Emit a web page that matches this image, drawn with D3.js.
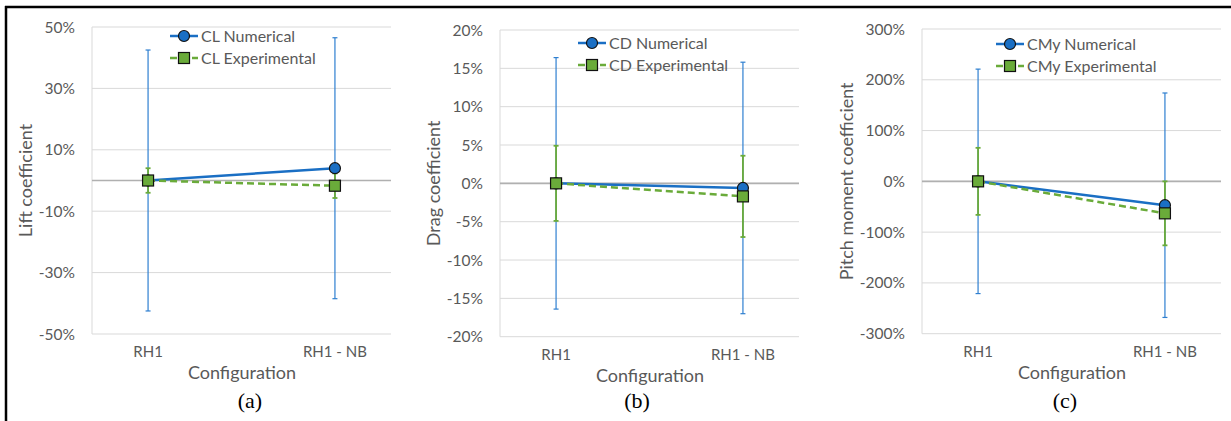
<!DOCTYPE html>
<html>
<head>
<meta charset="utf-8">
<script src="https://cdn.jsdelivr.net/npm/d3@7"></script>
<style>
  body { margin: 0; background: #fff; }
  svg { display: block; font-family: Lato, "Noto Sans", sans-serif; }
  .tick-label, .cat-label, .axis-title, .legend-text { fill: #595959; }
  .panel-tag { font-family: "Liberation Serif", "DejaVu Serif", serif; fill: #000; }
</style>
</head>
<body>
<div id="chart"></div>
<script>
// categories shared by all three panels
const categories = ["RH1", "RH1 - NB"];

// (a) lift coefficient, % change
const clNumerical = [0, 4.0];
const clNumericalErr = [42.5, 42.5];
const clExperimental = [0, -1.7];
const clExperimentalErr = [4.0, 4.0];
const clTicks = [-50, -30, -10, 10, 30, 50];

// (b) drag coefficient
const cdNumerical = [0, -0.6];
const cdNumericalErr = [16.4, 16.4];
const cdExperimental = [0, -1.7];
const cdExperimentalErr = [4.9, 5.3];
const cdTicks = [-20, -15, -10, -5, 0, 5, 10, 15, 20];

// (c) pitch moment coefficient
const cmyNumerical = [0, -47];
const cmyNumericalErr = [221, 221];
const cmyExperimental = [0, -63];
const cmyExperimentalErr = [66, 63];
const cmyTicks = [-300, -200, -100, 0, 100, 200, 300];

const BLUE = "#1a6fc4";
const BLUE_ERR = "#2e7fd0";
const GREEN = "#6aab3a";

const svg = d3.select("#chart").append("svg")
  .attr("width", 1231)
  .attr("height", 421);

svg.append("rect").attr("width", 1231).attr("height", 421).attr("fill", "#fff");

// outer frame (top and left edges show)
svg.append("line").attr("x1", 5).attr("x2", 1231).attr("y1", 7).attr("y2", 7)
  .attr("stroke", "#000").attr("stroke-width", 2.5);
svg.append("line").attr("x1", 6).attr("x2", 6).attr("y1", 6).attr("y2", 421)
  .attr("stroke", "#000").attr("stroke-width", 2.5);

function drawPanel(o) {
  const g = svg.append("g");

  const x = d3.scalePoint().domain(categories).range([o.left, o.right]).padding(0.3);
  const y = d3.scaleLinear().domain(o.domain).range([o.bottom, o.top]);

  // gridlines
  g.selectAll(".grid").data(o.ticks).join("line")
    .attr("x1", o.left).attr("x2", o.right)
    .attr("y1", d => y(d)).attr("y2", d => y(d))
    .attr("stroke", "#d9d9d9").attr("stroke-width", 1);
  // left axis line
  g.append("line").attr("x1", o.left).attr("x2", o.left)
    .attr("y1", o.top).attr("y2", o.bottom)
    .attr("stroke", "#d9d9d9");
  // category axis at zero
  g.append("line").attr("x1", o.left).attr("x2", o.right)
    .attr("y1", y(0)).attr("y2", y(0))
    .attr("stroke", "#b0b0b0").attr("stroke-width", 1.6);

  // tick labels
  g.selectAll(".tick-label").data(o.ticks).join("text")
    .attr("class", "tick-label")
    .attr("x", o.left - 17).attr("y", d => y(d)).attr("dy", "0.36em")
    .attr("text-anchor", "end").attr("font-size", 15.5)
    .text(d => d + "%");

  g.selectAll(".cat-label").data(categories).join("text")
    .attr("class", "cat-label")
    .attr("x", d => x(d)).attr("y", o.bottom + 23)
    .attr("text-anchor", "middle").attr("font-size", 15)
    .text(d => d);

  g.append("text").attr("class", "axis-title")
    .attr("x", o.titleX).attr("y", o.bottom + 45)
    .attr("text-anchor", "middle").attr("font-size", 18)
    .text("Configuration");

  g.append("text").attr("class", "axis-title")
    .attr("transform", `translate(${o.yTitleX},${(o.top + o.bottom) / 2}) rotate(-90)`)
    .attr("dy", "0.36em")
    .attr("text-anchor", "middle").attr("font-size", 18)
    .text(o.yTitle);

  g.append("text").attr("class", "panel-tag")
    .attr("x", o.tagX).attr("y", 408)
    .attr("text-anchor", "middle").attr("font-size", 22)
    .text(o.tag);

  const num = categories.map((c, i) => ({ c, v: o.num[i], e: o.numErr[i] }));
  const exp = categories.map((c, i) => ({ c, v: o.exp[i], e: o.expErr[i] }));

  const line = d3.line().x(d => x(d.c)).y(d => y(d.v));

  g.append("path").datum(num).attr("d", line)
    .attr("fill", "none").attr("stroke", BLUE).attr("stroke-width", 2.5);
  g.append("path").datum(exp).attr("d", line)
    .attr("fill", "none").attr("stroke", GREEN).attr("stroke-width", 2.5)
    .attr("stroke-dasharray", "7,4");

  function errorBars(data, color, w) {
    const eb = g.append("g");
    eb.selectAll(".bar").data(data).join("line")
      .attr("x1", d => x(d.c)).attr("x2", d => x(d.c))
      .attr("y1", d => y(d.v + d.e)).attr("y2", d => y(d.v - d.e))
      .attr("stroke", color).attr("stroke-width", w);
    eb.selectAll(".cap").data(data.flatMap(d => [d.v + d.e, d.v - d.e].map(v => ({ c: d.c, v }))))
      .join("line")
      .attr("x1", d => x(d.c) - 2.5).attr("x2", d => x(d.c) + 2.5)
      .attr("y1", d => y(d.v)).attr("y2", d => y(d.v))
      .attr("stroke", color).attr("stroke-width", w);
  }
  errorBars(num, BLUE_ERR, 1.2);
  errorBars(exp, GREEN, 1.8);

  g.selectAll(".dot").data(num).join("circle")
    .attr("cx", d => x(d.c)).attr("cy", d => y(d.v)).attr("r", 5.5)
    .attr("fill", BLUE).attr("stroke", "#111").attr("stroke-width", 1.2);
  g.selectAll(".sq").data(exp).join("rect")
    .attr("x", d => x(d.c) - 5.5).attr("y", d => y(d.v) - 5.5)
    .attr("width", 11).attr("height", 11)
    .attr("fill", GREEN).attr("stroke", "#111").attr("stroke-width", 1.2);

  // legend
  const lg = g.append("g").attr("transform", `translate(${o.legendX},${o.legendY})`);
  const items = [
    { label: o.numLabel, color: BLUE, dash: null, shape: "circle" },
    { label: o.expLabel, color: GREEN, dash: "7,4", shape: "square" }
  ];
  items.forEach((it, i) => {
    const row = lg.append("g").attr("transform", `translate(0,${i * 22})`);
    row.append("line").attr("x1", 0).attr("x2", 28)
      .attr("stroke", it.color).attr("stroke-width", 2.5)
      .attr("stroke-dasharray", it.dash);
    if (it.shape === "circle") {
      row.append("circle").attr("cx", 14).attr("r", 5.5)
        .attr("fill", it.color).attr("stroke", "#111").attr("stroke-width", 1.2);
    } else {
      row.append("rect").attr("x", 8.5).attr("y", -5.5).attr("width", 11).attr("height", 11)
        .attr("fill", it.color).attr("stroke", "#111").attr("stroke-width", 1.2);
    }
    row.append("text").attr("class", "legend-text")
      .attr("x", 31).attr("dy", "0.36em").attr("font-size", 16)
      .text(it.label);
  });
}

drawPanel({
  left: 92, right: 391, top: 27, bottom: 334,
  domain: [-50, 50], ticks: clTicks,
  num: clNumerical, numErr: clNumericalErr, exp: clExperimental, expErr: clExperimentalErr,
  yTitle: "Lift coefficient", yTitleX: 26, titleX: 242, tagX: 250, tag: "(a)",
  legendX: 170, legendY: 36, numLabel: "CL Numerical", expLabel: "CL Experimental"
});

drawPanel({
  left: 500, right: 799, top: 30, bottom: 336.7,
  domain: [-20, 20], ticks: cdTicks,
  num: cdNumerical, numErr: cdNumericalErr, exp: cdExperimental, expErr: cdExperimentalErr,
  yTitle: "Drag coefficient", yTitleX: 434, titleX: 650, tagX: 637, tag: "(b)",
  legendX: 578, legendY: 43, numLabel: "CD Numerical", expLabel: "CD Experimental"
});

drawPanel({
  left: 922, right: 1221, top: 29, bottom: 333.7,
  domain: [-300, 300], ticks: cmyTicks,
  num: cmyNumerical, numErr: cmyNumericalErr, exp: cmyExperimental, expErr: cmyExperimentalErr,
  yTitle: "Pitch moment coefficient", yTitleX: 847, titleX: 1072, tagX: 1065, tag: "(c)",
  legendX: 996, legendY: 44, numLabel: "CMy Numerical", expLabel: "CMy Experimental"
});
</script>
</body>
</html>
